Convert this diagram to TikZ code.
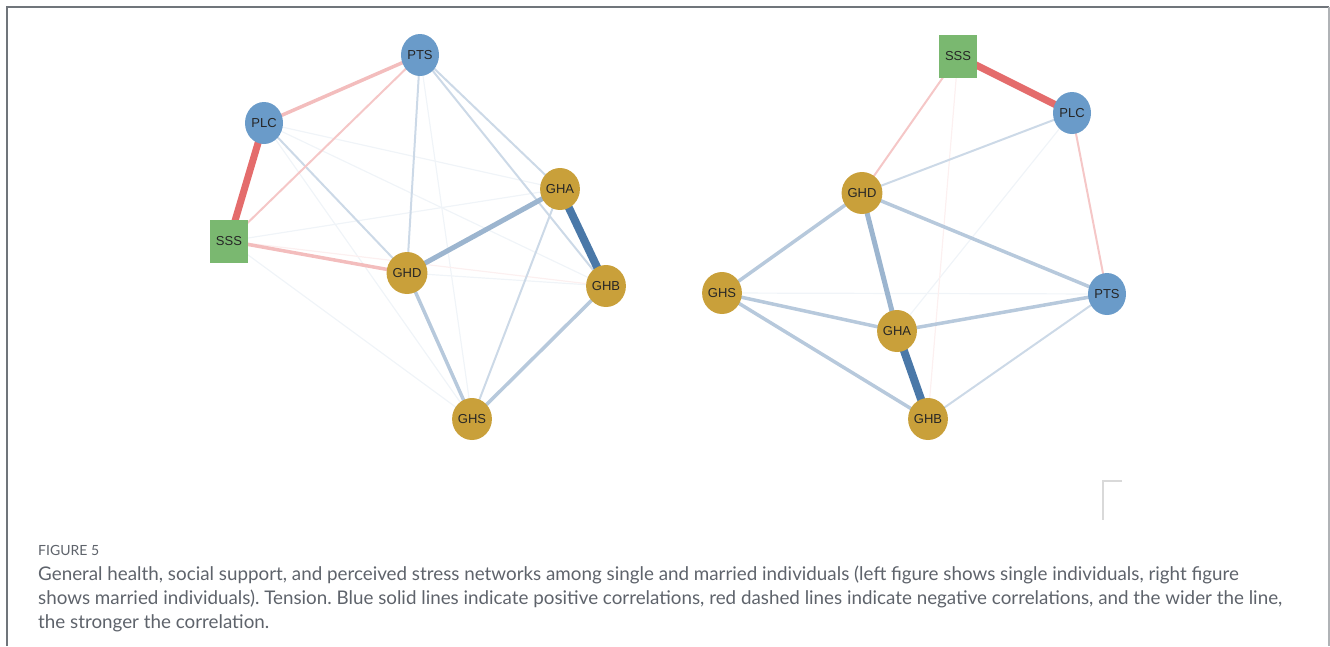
\documentclass[tikz,border=0pt]{standalone}
\usepackage{fontspec}
\setmainfont{Lato}
\newfontfamily\labelfont{Liberation Sans}
\usetikzlibrary{shapes.geometric,backgrounds}
\frenchspacing

\definecolor{nodeblue}{HTML}{6A9BC9}
\definecolor{nodegold}{HTML}{C9A03A}
\definecolor{nodegreen}{HTML}{7AB870}
\definecolor{posedge}{HTML}{4A78A8}
\definecolor{negedge}{HTML}{E46C6C}
\definecolor{captiongray}{HTML}{5E636B}
\definecolor{framegray}{HTML}{70757B}

\tikzset{
	var/.style={ellipse, minimum width=38, minimum height=42, inner sep=0, font=\labelfont\fontsize{13}{14}\selectfont, text=black!85},
	stress/.style={var, fill=nodeblue},
	health/.style={var, fill=nodegold},
	support/.style={var, rectangle, minimum width=38, minimum height=43, fill=nodegreen},
	posfaint/.style={line width=1.2, posedge!8},
	poslight/.style={line width=2, posedge!28},
	posmid/.style={line width=3.5, posedge!40},
	posbold/.style={line width=5, posedge!55},
	posmax/.style={line width=8, posedge},
	negfaint/.style={line width=1.2, negedge!10},
	neglight/.style={line width=2, negedge!38},
	negmid/.style={line width=3.5, negedge!45},
	negmax/.style={line width=7, negedge},
}

\begin{document}
\begin{tikzpicture}[x=1pt, y=-1pt]
	\useasboundingbox (0,0) rectangle (1330,646);
	\draw[framegray, line width=2] (7,646) -- (7,7) -- (1329,7);
	\draw[framegray!55, line width=1.5] (1329,7) -- (1329,646);
	\draw[black!15, line width=2] (1122,481) -- (1103,481) -- (1103,520);

	\node[stress]  (sPTS) at (420,55)  {PTS};
	\node[stress]  (sPLC) at (264,123) {PLC};
	\node[support] (sSSS) at (229,241) {SSS};
	\node[health]  (sGHD) at (407,273) {GHD};
	\node[health]  (sGHA) at (560,189) {GHA};
	\node[health]  (sGHB) at (606,286) {GHB};
	\node[health]  (sGHS) at (472,419) {GHS};

	\node[support] (mSSS) at (958,56)  {SSS};
	\node[stress]  (mPLC) at (1072,113) {PLC};
	\node[health]  (mGHD) at (862,193) {GHD};
	\node[health]  (mGHS) at (722,293) {GHS};
	\node[health]  (mGHA) at (897,331) {GHA};
	\node[health]  (mGHB) at (928,419) {GHB};
	\node[stress]  (mPTS) at (1107,294) {PTS};

	\begin{pgfonlayer}{background}
		\draw[posfaint] (sPLC.center) -- (sGHA.center);
		\draw[posfaint] (sPLC.center) -- (sGHB.center);
		\draw[posfaint] (sPLC.center) -- (sGHS.center);
		\draw[posfaint] (sPTS.center) -- (sGHS.center);
		\draw[posfaint] (sGHD.center) -- (sGHB.center);
		\draw[posfaint] (sSSS.center) -- (sGHS.center);
		\draw[posfaint] (sSSS.center) -- (sGHA.center);
		\draw[negfaint] (sSSS.center) -- (sGHB.center);
		\draw[poslight] (sPLC.center) -- (sGHD.center);
		\draw[poslight] (sGHA.center) -- (sGHS.center);
		\draw[poslight] (sPTS.center) -- (sGHB.center);
		\draw[poslight] (sPTS.center) -- (sGHD.center);
		\draw[poslight] (sPTS.center) -- (sGHA.center);
		\draw[neglight] (sPTS.center) -- (sSSS.center);
		\draw[negmid] (sSSS.center) -- (sGHD.center);
		\draw[negmid] (sPTS.center) -- (sPLC.center);
		\draw[posmid] (sGHD.center) -- (sGHS.center);
		\draw[posmid] (sGHB.center) -- (sGHS.center);
		\draw[posbold] (sGHD.center) -- (sGHA.center);
		\draw[posmax] (sGHA.center) -- (sGHB.center);
		\draw[negmax] (sPLC.center) -- (sSSS.center);

		\draw[posfaint] (mGHS.center) -- (mPTS.center);
		\draw[posfaint] (mPLC.center) -- (mGHA.center);
		\draw[negfaint] (mSSS.center) -- (mGHB.center);
		\draw[neglight] (mSSS.center) -- (mGHD.center);
		\draw[neglight] (mPLC.center) -- (mPTS.center);
		\draw[poslight] (mPLC.center) -- (mGHD.center);
		\draw[poslight] (mGHB.center) -- (mPTS.center);
		\draw[posmid] (mGHD.center) -- (mPTS.center);
		\draw[posmid] (mGHD.center) -- (mGHS.center);
		\draw[posmid] (mGHS.center) -- (mGHA.center);
		\draw[posmid] (mGHS.center) -- (mGHB.center);
		\draw[posmid] (mGHA.center) -- (mPTS.center);
		\draw[posbold] (mGHD.center) -- (mGHA.center);
		\draw[posmax] (mGHA.center) -- (mGHB.center);
		\draw[negmax] (mSSS.center) -- (mPLC.center);
	\end{pgfonlayer}

	\node[anchor=base west, inner sep=0, text=captiongray, font=\fontsize{14}{15}\selectfont] (figlabel) at (38,555) {FIGURE 5};
	\node[anchor=north west, inner sep=0, align=left, text=captiongray, font=\fontsize{18.8}{24}\selectfont] (caption) at (38,566) {General health, social support, and perceived stress networks among single and married individuals (left figure shows single individuals, right figure\\
	shows married individuals). Tension. Blue solid lines indicate positive correlations, red dashed lines indicate negative correlations, and the wider the line,\\
	the stronger the correlation.};
\end{tikzpicture}
\end{document}
